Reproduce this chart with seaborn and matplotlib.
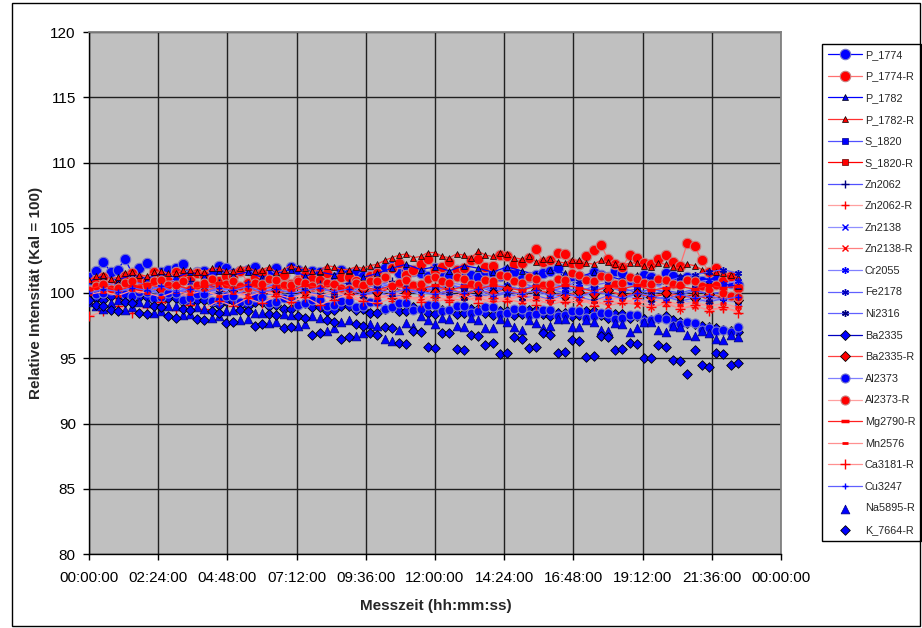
import numpy as np
import pandas as pd
import matplotlib
matplotlib.use("Agg")
import matplotlib.pyplot as plt
import seaborn as sns
from matplotlib.patches import Rectangle

# ---------------- data ----------------
hours = [0.0, 0.5, 1.0, 1.5, 2.0, 2.5, 3.0, 3.5, 4.0, 4.5,
         5.0, 5.5, 6.0, 6.5, 7.0, 7.5, 8.0, 8.5, 9.0, 9.5,
         10.0, 10.5, 11.0, 11.5, 12.0, 12.5, 13.0, 13.5, 14.0, 14.5,
         15.0, 15.5, 16.0, 16.5, 17.0, 17.5, 18.0, 18.5, 19.0, 19.5,
         20.0, 20.5, 21.0, 21.5, 22.0, 22.5]
hours_fine = [0.0, 0.25, 0.5, 0.75, 1.0, 1.25, 1.5, 1.75, 2.0, 2.25,
              2.5, 2.75, 3.0, 3.25, 3.5, 3.75, 4.0, 4.25, 4.5, 4.75,
              5.0, 5.25, 5.5, 5.75, 6.0, 6.25, 6.5, 6.75, 7.0, 7.25,
              7.5, 7.75, 8.0, 8.25, 8.5, 8.75, 9.0, 9.25, 9.5, 9.75,
              10.0, 10.25, 10.5, 10.75, 11.0, 11.25, 11.5, 11.75, 12.0, 12.25,
              12.5, 12.75, 13.0, 13.25, 13.5, 13.75, 14.0, 14.25, 14.5, 14.75,
              15.0, 15.25, 15.5, 15.75, 16.0, 16.25, 16.5, 16.75, 17.0, 17.25,
              17.5, 17.75, 18.0, 18.25, 18.5, 18.75, 19.0, 19.25, 19.5, 19.75,
              20.0, 20.25, 20.5, 20.75, 21.0, 21.25, 21.5, 21.75, 22.0, 22.25,
              22.5]

P_1774 = [101.2, 101.7, 102.4, 101.6, 101.8, 102.6, 101.5, 101.9, 102.3, 101.4,
          101.6, 101.8, 101.9, 102.2, 101.4, 101.6, 101.7, 101.5, 102.1, 101.9,
          101.5, 101.7, 101.8, 102.0, 101.3, 101.6, 101.9, 101.4, 102.0, 101.8,
          101.4, 101.7, 101.6, 101.3, 101.2, 101.8, 101.5, 101.6, 101.3, 101.4,
          101.7, 101.9, 102.1, 101.5, 101.8, 101.7, 101.5, 101.3, 101.9, 101.6,
          101.3, 101.8, 101.6, 101.4, 101.2, 101.7, 101.5, 101.3, 101.8, 101.6,
          101.1, 101.2, 101.4, 101.5, 101.7, 101.9, 101.0, 101.3, 101.3, 101.1,
          101.6, 101.4, 101.2, 101.7, 101.5, 101.0, 100.9, 101.4, 101.2, 101.0,
          101.5, 101.3, 100.8, 101.2, 101.1, 100.9, 100.7, 101.2, 101.0, 100.8,
          100.6]
P_1774_R = [100.6, 101.0, 101.2, 100.7, 100.8, 101.3, 101.5, 101.1, 100.9, 101.6,
            101.3, 100.9, 101.6, 101.2, 101.0, 101.5, 101.4, 100.8, 100.9, 101.3,
            101.3, 101.7, 100.8, 101.2, 101.5, 100.9, 101.1, 101.4, 100.7, 101.0,
            101.4, 101.1, 101.0, 101.5, 100.6, 101.2, 101.2, 100.9, 100.8, 101.3,
            101.5, 101.2, 101.9, 102.3, 101.4, 101.8, 102.2, 102.6, 101.7, 102.0,
            102.4, 101.8, 101.9, 102.5, 102.6, 102.0, 102.1, 102.9, 102.8, 102.2,
            102.3, 102.7, 103.4, 102.4, 102.5, 103.1, 103.0, 102.3, 102.2, 102.8,
            103.3, 103.7, 102.6, 102.2, 102.0, 102.9, 102.7, 102.3, 102.2, 102.6,
            102.9, 102.4, 102.1, 103.8, 103.6, 102.5, 101.6, 101.9, 100.9, 101.3,
            100.4]
P_1782 = [100.9, 101.3, 101.0, 101.4, 101.1, 101.5, 101.2, 101.6, 101.3, 101.7,
          101.4, 101.6, 101.2, 101.5, 101.8, 101.3, 101.6, 101.4, 101.7, 101.2,
          101.5, 101.9, 102.2, 101.8, 102.0, 101.7, 102.1, 101.9, 101.6, 102.0,
          101.7, 101.4, 101.8, 101.5, 101.2, 101.6, 101.3, 101.0, 101.4, 101.1,
          100.9, 101.3, 100.8, 101.0, 100.7, 100.5]
P_1782_R = [101.0, 101.3, 101.4, 101.1, 101.2, 101.5, 101.6, 101.4, 101.3, 101.6,
            101.7, 101.5, 101.5, 101.8, 101.8, 101.6, 101.6, 101.9, 101.9, 101.7,
            101.7, 101.9, 102.0, 101.7, 101.8, 102.0, 101.6, 101.8, 102.1, 101.9,
            101.9, 101.7, 101.7, 102.1, 102.0, 101.8, 101.8, 102.0, 101.9, 102.1,
            102.2, 102.5, 102.7, 102.9, 103.0, 102.7, 102.8, 103.1, 103.1, 102.8,
            102.7, 103.0, 102.9, 102.7, 103.2, 102.9, 102.8, 103.1, 103.0, 102.7,
            102.6, 102.8, 102.4, 102.6, 102.6, 102.4, 102.3, 102.5, 102.5, 102.3,
            102.2, 102.5, 102.4, 102.2, 102.1, 102.3, 102.3, 102.1, 102.0, 102.3,
            102.2, 102.0, 101.9, 102.2, 102.1, 101.8, 101.7, 101.6, 101.5, 101.4,
            101.2]
S_1820 = [100.1, 100.5, 100.2, 100.6, 100.3, 100.7, 100.4, 100.2, 100.6, 100.3,
          100.5, 100.1, 100.4, 100.7, 100.3, 100.5, 100.2, 100.6, 100.4, 100.1,
          100.5, 100.3, 100.7, 100.4, 100.2, 100.6, 100.3, 100.5, 100.1, 100.4,
          100.2, 100.6, 100.3, 100.0, 100.4, 100.2, 100.5, 100.1, 100.3, 99.9,
          100.2, 100.0, 100.3, 99.9, 100.1, 99.8]
S_1820_R = [99.8, 100.2, 99.9, 100.3, 100.0, 100.4, 99.9, 100.2, 100.0, 100.3,
            99.8, 100.1, 100.4, 100.0, 100.2, 99.9, 100.3, 100.1, 99.8, 100.2,
            100.0, 100.4, 100.1, 100.3, 99.9, 100.2, 100.0, 100.3, 99.8, 100.1,
            99.9, 100.2, 100.0, 99.7, 100.1, 99.9, 100.2, 99.8, 100.0, 99.7,
            99.9, 99.6, 99.9, 99.5, 99.8, 99.5]
Zn2062 = [100.4, 100.8, 100.5, 100.9, 100.6, 100.3, 100.7, 100.9, 100.5, 100.8,
          100.4, 100.7, 100.9, 100.5, 100.6, 100.3, 100.7, 100.5, 100.8, 100.4,
          100.6, 100.9, 100.5, 100.7, 100.3, 100.6, 100.4, 100.7, 100.2, 100.5,
          100.3, 100.6, 100.2, 100.4, 100.1, 100.5, 100.2, 100.4, 100.0, 100.3,
          100.1, 99.8, 100.2, 99.9, 100.1, 99.7]
Zn2062_R = [99.6, 100.1, 99.8, 100.2, 99.7, 100.0, 99.6, 99.9, 100.2, 99.7,
            99.9, 99.5, 99.8, 100.1, 99.6, 99.9, 99.4, 99.8, 99.5, 99.7,
            99.9, 99.4, 99.8, 99.5, 99.7, 99.3, 99.6, 99.8, 99.4, 99.6,
            99.2, 99.5, 99.7, 99.3, 99.5, 99.1, 99.4, 99.6, 99.2, 99.4,
            99.0, 99.3, 98.9, 99.2, 98.8, 99.0]
Zn2138 = [100.0, 100.4, 100.1, 99.8, 100.3, 100.0, 100.5, 100.2, 99.9, 100.3,
          100.1, 99.8, 100.2, 100.4, 100.0, 100.2, 99.7, 100.1, 99.9, 100.3,
          100.0, 99.8, 100.2, 99.9, 100.1, 99.7, 100.0, 99.8, 100.2, 99.9,
          99.6, 100.0, 99.8, 99.5, 99.9, 99.7, 99.4, 99.8, 99.6, 99.3,
          99.7, 99.5, 99.2, 99.6, 99.4, 99.3]
Zn2138_R = [99.5, 99.9, 99.7, 100.1, 99.8, 99.6, 100.0, 99.7, 99.9, 99.5,
            99.8, 100.0, 99.6, 99.8, 99.4, 99.7, 99.9, 99.5, 99.7, 99.3,
            99.6, 99.8, 99.5, 99.7, 99.3, 99.6, 99.4, 99.7, 99.2, 99.5,
            99.3, 99.6, 99.1, 99.4, 99.2, 99.5, 99.0, 99.3, 99.1, 98.9,
            99.2, 98.8, 99.0, 98.7, 98.9, 98.6]
Cr2055 = [100.5, 100.8, 100.6, 100.9, 100.4, 100.7, 101.0, 100.6, 100.8, 100.5,
          100.9, 100.7, 100.4, 100.8, 100.6, 100.9, 100.5, 100.7, 100.3, 100.6,
          100.8, 100.5, 100.9, 100.7, 100.4, 100.8, 100.6, 100.3, 100.7, 100.5,
          100.8, 100.4, 100.6, 100.3, 100.7, 100.5, 100.2, 100.6, 100.4, 100.7,
          100.3, 100.6, 100.8, 101.0, 100.7, 100.9]
Fe2178 = [100.2, 100.5, 100.1, 100.4, 100.0, 100.3, 100.6, 100.2, 100.4, 100.1,
          100.5, 100.3, 100.0, 100.4, 100.2, 100.5, 100.1, 100.3, 100.6, 100.2,
          100.4, 100.7, 100.3, 100.5, 100.2, 100.6, 100.4, 100.7, 100.3, 100.6,
          100.8, 100.4, 100.7, 100.5, 100.9, 100.6, 100.8, 101.0, 100.7, 101.1,
          100.9, 101.2, 101.4, 101.6, 101.8, 101.5]
Ni2316 = [99.9, 100.2, 99.8, 100.1, 100.3, 99.9, 100.2, 100.0, 99.7, 100.1,
          99.9, 100.2, 99.8, 100.0, 99.7, 100.1, 99.9, 99.6, 100.0, 99.8,
          100.1, 99.7, 99.9, 100.2, 99.8, 100.0, 99.6, 99.9, 99.7, 100.0,
          99.6, 99.8, 99.5, 99.9, 99.7, 99.4, 99.8, 99.6, 99.9, 99.5,
          99.7, 99.4, 99.6, 99.3, 99.6, 99.4]
Ba2335 = [99.8, 99.6, 99.5, 99.8, 99.9, 99.6, 99.4, 99.7, 99.7, 99.4,
          99.3, 99.6, 99.6, 99.3, 99.2, 99.5, 99.5, 99.2, 99.1, 99.4,
          99.4, 99.1, 99.0, 99.3, 99.3, 99.0, 99.1, 98.8, 98.8, 99.1,
          99.2, 98.9, 98.9, 98.6, 98.7, 99.0, 99.0, 98.7, 98.8, 98.5,
          98.5, 98.8, 98.9, 98.6, 98.6, 98.9, 98.8, 98.5, 98.4, 98.7,
          98.7, 98.4, 98.5, 98.8, 98.8, 98.5, 98.3, 98.6, 98.6, 98.3,
          98.4, 98.7, 98.7, 98.4, 98.2, 98.5, 98.5, 98.2, 98.3, 98.6,
          98.6, 98.3, 98.1, 98.4, 98.4, 98.1, 98.2, 98.0, 97.9, 98.1,
          98.2, 97.9, 97.8, 97.7, 97.6, 97.5, 97.4, 97.3, 97.2, 97.1,
          97.0]
Ba2335_R = [100.0, 100.3, 100.5, 100.1, 100.4, 100.2, 100.6, 100.3, 100.1, 100.5,
            100.2, 100.4, 100.0, 100.3, 100.5, 100.1, 100.4, 100.2, 99.9, 100.3,
            100.1, 100.4, 100.0, 100.3, 100.1, 100.4, 99.9, 100.2, 100.0, 100.3,
            99.9, 100.2, 100.0, 99.8, 100.1, 99.9, 100.2, 99.8, 100.0, 99.7,
            100.0, 99.8, 99.6, 99.9, 99.7, 99.5]
Al2373 = [100.3, 99.9, 100.0, 100.2, 100.4, 99.9, 99.8, 100.1, 100.1, 99.6,
          99.7, 100.0, 100.0, 99.5, 99.6, 99.9, 99.9, 99.4, 99.5, 99.8,
          99.8, 99.3, 99.4, 99.7, 99.7, 99.2, 99.3, 99.6, 99.6, 99.1,
          99.2, 99.5, 99.5, 99.0, 99.1, 99.4, 99.4, 98.9, 99.0, 99.3,
          99.3, 98.8, 98.9, 99.2, 99.2, 98.7, 98.8, 99.1, 99.1, 98.6,
          98.7, 99.0, 99.0, 98.5, 98.6, 98.9, 98.9, 98.4, 98.5, 98.8,
          98.8, 98.3, 98.4, 98.7, 98.7, 98.2, 98.3, 98.6, 98.6, 98.1,
          98.2, 98.5, 98.5, 98.0, 98.1, 98.3, 98.3, 97.8, 97.9, 98.1,
          98.0, 97.5, 97.6, 97.8, 97.7, 97.2, 97.3, 97.1, 97.2, 97.0,
          97.4]
Al2373_R = [100.2, 100.5, 100.7, 100.3, 100.4, 100.8, 100.9, 100.4, 100.5, 100.9,
            101.0, 100.6, 100.6, 100.9, 100.3, 100.6, 100.8, 101.1, 100.5, 100.7,
            100.9, 100.5, 100.4, 100.8, 100.7, 101.1, 101.0, 100.6, 100.6, 100.9,
            100.8, 100.5, 100.4, 100.8, 100.7, 100.4, 100.3, 100.8, 100.6, 100.9,
            100.9, 101.2, 100.5, 100.8, 101.0, 100.6, 100.7, 101.1, 101.2, 100.9,
            100.8, 101.2, 101.1, 100.7, 100.6, 101.0, 100.9, 101.4, 101.3, 100.9,
            100.8, 101.2, 101.1, 100.6, 100.7, 101.1, 101.0, 101.5, 101.4, 101.0,
            100.9, 101.3, 101.2, 100.7, 100.8, 101.2, 101.1, 100.8, 100.7, 101.1,
            101.0, 100.7, 100.6, 101.0, 100.9, 100.5, 100.3, 100.6, 100.0, 99.8,
            99.7]
Mg2790_R = [100.3, 100.6, 100.2, 100.5, 100.7, 100.4, 100.6, 100.3, 100.5, 100.8,
            100.4, 100.6, 100.3, 100.5, 100.2, 100.6, 100.4, 100.7, 100.3, 100.5,
            100.2, 100.6, 100.4, 100.3, 100.6, 100.2, 100.5, 100.3, 100.6, 100.4,
            100.2, 100.5, 100.3, 100.6, 100.4, 100.1, 100.5, 100.3, 100.6, 100.2,
            100.4, 100.5, 100.3, 100.6, 100.4, 100.5]
Mn2576 = [99.9, 100.1, 99.8, 100.2, 100.0, 99.7, 100.1, 99.9, 100.2, 99.8,
          100.0, 99.7, 100.1, 99.9, 99.6, 100.0, 99.8, 100.1, 99.7, 99.9,
          99.6, 100.0, 99.8, 99.5, 99.9, 99.7, 100.0, 99.6, 99.8, 99.5,
          99.9, 99.7, 99.4, 99.8, 99.6, 99.3, 99.7, 99.5, 99.2, 99.6,
          99.4, 99.1, 99.3, 99.0, 99.2, 98.9]
Ca3181_R = [98.2, 98.6, 99.0, 98.5, 98.9, 99.3, 98.7, 99.1, 98.8, 99.4,
            99.0, 99.6, 99.2, 99.8, 99.3, 99.7, 99.1, 99.5, 99.9, 99.4,
            99.2, 99.6, 99.8, 99.3, 99.7, 99.5, 99.9, 99.2, 99.6, 99.4,
            99.8, 99.1, 99.5, 99.3, 99.7, 99.0, 99.4, 99.2, 99.6, 98.9,
            99.3, 98.8, 99.1, 98.6, 98.9, 98.5]
Cu3247 = [100.0, 100.3, 100.1, 100.4, 100.2, 100.5, 100.1, 100.3, 100.0, 100.4,
          100.2, 100.5, 100.1, 100.3, 100.0, 100.2, 100.4, 100.1, 100.3, 99.9,
          100.2, 100.0, 100.3, 100.1, 99.9, 100.2, 100.0, 100.3, 99.8, 100.1,
          99.9, 100.2, 99.8, 100.0, 99.7, 100.1, 99.9, 99.6, 100.0, 99.8,
          99.5, 99.9, 99.6, 99.8, 99.5, 99.7]
Na5895_R = [99.3, 99.0, 98.8, 99.2, 99.5, 98.7, 98.9, 99.3, 99.2, 98.5,
            98.6, 99.0, 99.0, 98.3, 98.4, 98.9, 98.8, 98.1, 98.2, 98.6,
            98.7, 97.9, 98.0, 98.5, 98.5, 97.7, 97.8, 98.4, 98.3, 97.5,
            97.6, 98.2, 98.1, 97.1, 97.3, 97.8, 97.9, 96.7, 96.9, 97.6,
            97.5, 96.5, 96.3, 97.2, 97.7, 97.4, 98.2, 97.9, 97.6, 98.1,
            98.0, 97.5, 97.4, 98.1, 97.9, 97.3, 97.3, 98.0, 97.8, 97.4,
            97.2, 97.9, 97.7, 97.3, 97.5, 98.0, 98.0, 97.4, 97.4, 97.9,
            97.8, 97.2, 97.1, 97.7, 97.6, 97.0, 97.3, 97.8, 97.8, 97.2,
            97.0, 97.5, 97.4, 96.8, 96.7, 97.1, 96.9, 96.5, 96.4, 96.8,
            96.6]
K_7664_R = [99.5, 99.1, 99.0, 98.7, 98.6, 99.3, 99.2, 98.5, 98.4, 99.0,
            98.9, 98.2, 98.1, 98.8, 98.7, 98.0, 97.9, 98.6, 98.5, 97.7,
            97.8, 98.7, 98.6, 97.5, 97.6, 98.4, 98.3, 97.3, 97.4, 98.2,
            98.1, 96.8, 96.9, 97.9, 97.8, 96.5, 96.6, 97.6, 97.5, 96.9,
            96.8, 97.4, 97.3, 96.2, 96.1, 97.1, 97.0, 95.9, 95.8, 96.9,
            96.9, 95.7, 95.6, 96.8, 96.7, 96.0, 96.2, 95.3, 95.4, 96.6,
            96.5, 95.8, 95.9, 96.9, 96.8, 95.4, 95.5, 96.4, 96.3, 95.1,
            95.2, 96.7, 96.6, 95.6, 95.7, 96.2, 96.1, 95.0, 95.0, 96.0,
            95.9, 94.9, 94.8, 93.8, 95.6, 94.5, 94.3, 95.4, 95.3, 94.5,
            94.6]

series_names = ["P_1774", "P_1774-R", "P_1782", "P_1782-R", "S_1820", "S_1820-R",
                "Zn2062", "Zn2062-R", "Zn2138", "Zn2138-R", "Cr2055", "Fe2178",
                "Ni2316", "Ba2335", "Ba2335-R", "Al2373", "Al2373-R", "Mg2790-R",
                "Mn2576", "Ca3181-R", "Cu3247", "Na5895-R", "K_7664-R"]
series_values = [P_1774, P_1774_R, P_1782, P_1782_R, S_1820, S_1820_R,
                 Zn2062, Zn2062_R, Zn2138, Zn2138_R, Cr2055, Fe2178,
                 Ni2316, Ba2335, Ba2335_R, Al2373, Al2373_R, Mg2790_R,
                 Mn2576, Ca3181_R, Cu3247, Na5895_R, K_7664_R]

x_tick_labels = ["00:00:00", "02:24:00", "04:48:00", "07:12:00", "09:36:00",
                 "12:00:00", "14:24:00", "16:48:00", "19:12:00", "21:36:00",
                 "00:00:00"]
y_ticks = [80, 85, 90, 95, 100, 105, 110, 115, 120]

x_label = "Messzeit (hh:mm:ss)"
y_label = "Relative Intensität (Kal = 100)"

frames = []
for name, vals in zip(series_names, series_values):
    t = hours_fine if len(vals) == len(hours_fine) else hours
    frames.append(pd.DataFrame({"t": t, "v": vals, "series": name}))
df = pd.concat(frames, ignore_index=True)

# ---------------- styles ----------------
AST = (6, 2, 0)
styles = {
    "P_1774":   dict(kind="line", lc="#0000FF", m="o", ms=7.5, mfc="#0000FF", mec="#7878C8", mew=0.8),
    "P_1774-R": dict(kind="line", lc="#FF7070", m="o", ms=7.5, mfc="#FF0000", mec="#C88080", mew=0.8),
    "P_1782":   dict(kind="line", lc="#0000FF", m="^", ms=4.5, mfc="#0000FF", mec="#000000", mew=0.5),
    "P_1782-R": dict(kind="line", lc="#FF3030", m="^", ms=4.5, mfc="#FF0000", mec="#000000", mew=0.5),
    "S_1820":   dict(kind="line", lc="#5050FF", m="s", ms=4.0, mfc="#0000FF", mec="#000080", mew=0.5),
    "S_1820-R": dict(kind="line", lc="#FF0000", m="s", ms=4.0, mfc="#FF0000", mec="#600000", mew=0.5),
    "Zn2062":   dict(kind="line", lc="#5050FF", m="+", ms=6.0, mfc="none", mec="#000080", mew=1.0),
    "Zn2062-R": dict(kind="line", lc="#FFA0A0", m="+", ms=6.0, mfc="none", mec="#FF0000", mew=1.0),
    "Zn2138":   dict(kind="line", lc="#9090FF", m="x", ms=5.0, mfc="none", mec="#0000FF", mew=1.0),
    "Zn2138-R": dict(kind="line", lc="#FF8080", m="x", ms=5.0, mfc="none", mec="#FF0000", mew=1.0),
    "Cr2055":   dict(kind="line", lc="#8080FF", m=AST, ms=5.0, mfc="none", mec="#0000FF", mew=1.0),
    "Fe2178":   dict(kind="line", lc="#6060FF", m=AST, ms=5.0, mfc="none", mec="#0000C0", mew=1.0),
    "Ni2316":   dict(kind="line", lc="#6060FF", m=AST, ms=5.0, mfc="none", mec="#000080", mew=1.0),
    "Ba2335":   dict(kind="line", lc="#0000C0", m="D", ms=5.5, mfc="#0000FF", mec="#000000", mew=0.6),
    "Ba2335-R": dict(kind="line", lc="#FF4040", m="D", ms=5.5, mfc="#FF0000", mec="#000000", mew=0.6),
    "Al2373":   dict(kind="line", lc="#8080FF", m="o", ms=6.5, mfc="#0000FF", mec="#7878C8", mew=0.8),
    "Al2373-R": dict(kind="line", lc="#FFA0A0", m="o", ms=6.5, mfc="#FF0000", mec="#C88080", mew=0.8),
    "Mg2790-R": dict(kind="line", lc="#FF2020", m="_", ms=6.0, mfc="none", mec="#FF0000", mew=2.5),
    "Mn2576":   dict(kind="line", lc="#FF9090", m="_", ms=4.0, mfc="none", mec="#FF0000", mew=2.0),
    "Ca3181-R": dict(kind="line", lc="#FF9090", m="+", ms=7.0, mfc="none", mec="#FF0000", mew=1.0),
    "Cu3247":   dict(kind="line", lc="#6060FF", m="+", ms=4.5, mfc="none", mec="#0000FF", mew=1.0),
    "Na5895-R": dict(kind="scatter", m="^", s=40, fc="#0000FF", ec="#000080", lw=0.5),
    "K_7664-R": dict(kind="scatter", m="D", s=24, fc="#0000FF", ec="#000000", lw=0.6),
}

# ---------------- figure ----------------
sns.set_theme(style="white")
plt.rcParams["font.family"] = ["Liberation Sans", "DejaVu Sans"]

W, H = 922, 628
fig = plt.figure(figsize=(W / 100, H / 100), dpi=100)
fig.patch.set_facecolor("white")
ax = fig.add_axes([89 / W, 1 - 554 / H, 692 / W, 522 / H])
ax.set_facecolor("#C0C0C0")

for name in series_names:
    st = styles[name]
    sub = df[df["series"] == name]
    if st["kind"] == "line":
        sns.lineplot(data=sub, x="t", y="v", ax=ax, color=st["lc"], linewidth=0.9,
                     marker=st["m"], markersize=st["ms"], markerfacecolor=st["mfc"],
                     markeredgecolor=st["mec"], markeredgewidth=st["mew"],
                     estimator=None, sort=False, label=name, zorder=3)
    else:
        sns.scatterplot(data=sub, x="t", y="v", ax=ax, marker=st["m"], s=st["s"],
                        color=st["fc"], edgecolor=st["ec"], linewidth=st["lw"],
                        label=name, zorder=3)

ax.set_xlim(0, 24)
ax.set_ylim(80, 120)
ax.set_xticks(np.linspace(0, 24, len(x_tick_labels)))
ax.set_xticklabels(x_tick_labels)
ax.set_yticks(y_ticks)
ax.set_yticklabels([str(v) for v in y_ticks])
ax.grid(True, color="#202020", linewidth=1.0, zorder=1)
ax.set_axisbelow(True)
ax.tick_params(axis="both", which="major", labelsize=11, colors="black",
               direction="out", length=4, width=1)
ax.tick_params(axis="y", left=True, pad=5.5)
ax.tick_params(axis="x", bottom=True, pad=8.5)
ax.set_xlabel("")
ax.set_ylabel("")
for side in ["top", "right"]:
    ax.spines[side].set_color("#808080")
    ax.spines[side].set_linewidth(1.3)
for side in ["left", "bottom"]:
    ax.spines[side].set_color("#000000")
    ax.spines[side].set_linewidth(1.0)

fig.text(436 / W, 1 - 606 / H, x_label, ha="center", va="center",
         fontsize=11, fontweight="bold")
fig.text(36 / W, 1 - 293 / H, y_label, ha="center", va="center",
         rotation=90, fontsize=11, fontweight="bold")

handles, labels = ax.get_legend_handles_labels()
leg = ax.legend(handles, labels, loc="upper left",
                bbox_to_anchor=(822 / W, 1 - 44 / H), bbox_transform=fig.transFigure,
                fontsize=7.8, frameon=True, fancybox=False, framealpha=1,
                edgecolor="black", borderpad=0.55, labelspacing=1.07,
                handlelength=3.1, handletextpad=0.3, borderaxespad=0,
                scatterpoints=1, numpoints=1)
leg.get_frame().set_linewidth(1.0)

fig.patches.append(Rectangle((12 / W, 2 / H), (920 - 12) / W, (623) / H,
                             transform=fig.transFigure, fill=False,
                             edgecolor="black", linewidth=1.0))

fig.savefig("out.png", dpi=100)
